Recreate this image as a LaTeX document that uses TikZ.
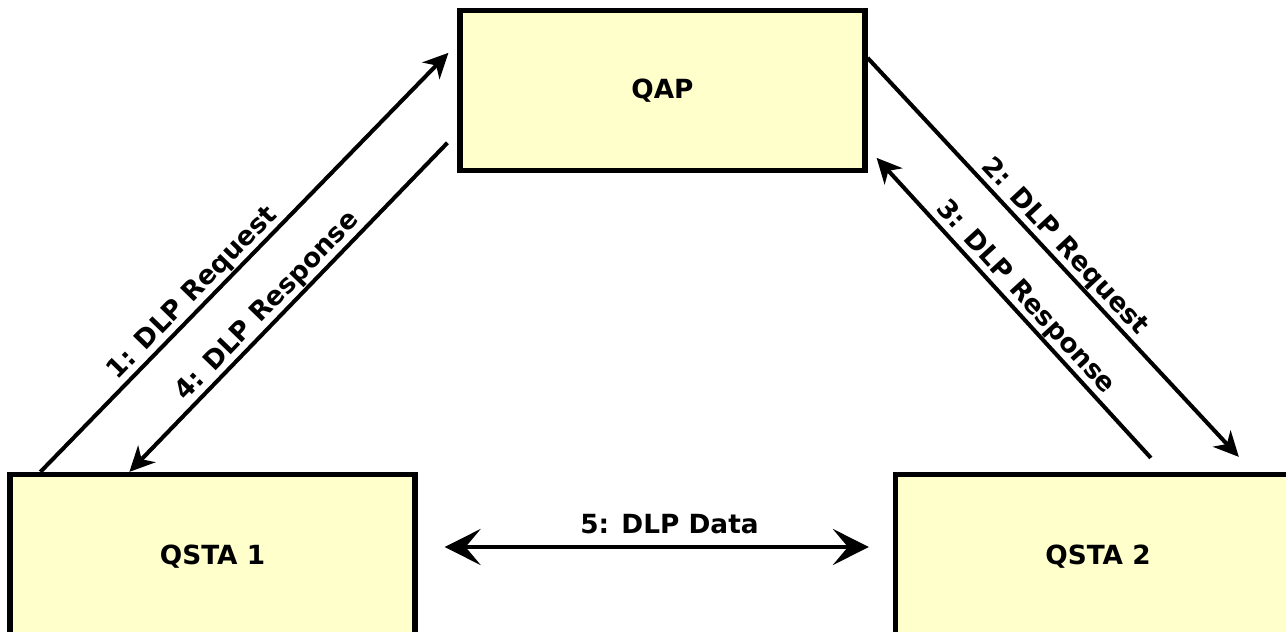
\documentclass[tikz,border=0pt]{standalone}
\usepackage{fontspec}
\setmainfont{DejaVu Sans}
\usetikzlibrary{arrows.meta}

\definecolor{boxyellow}{HTML}{FFFFCC}

\begin{document}
\begin{tikzpicture}[x=0.02cm,y=-0.02cm,
	station/.style={draw=black,line width=3pt,fill=boxyellow,minimum width=8.1cm,font=\bfseries\fontsize{15}{17}\selectfont},
	msg/.style={line width=2.3pt,-{Stealth[length=0.5cm,width=0.48cm,inset=0.15cm]}},
	datamsg/.style={line width=2.5pt,{Stealth[length=0.72cm,width=0.72cm,inset=0.3cm]}-{Stealth[length=0.72cm,width=0.72cm,inset=0.3cm]}},
	msglabel/.style={sloped,above,inner sep=0.5pt,font=\bfseries\fontsize{15}{17}\selectfont}]
					% Page frame
					\useasboundingbox (0,0) rectangle (1286,632);
					\clip (0,0) rectangle (1286,632);
					% Stations
					\node[station,minimum height=3.2cm] (qap) at (662.5,90.5) {QAP};
					\node[station,minimum height=3.3cm] (qsta1) at (212.5,557) {QSTA 1};
					\node[station,minimum height=3.3cm] (qsta2) at (1098,557) {QSTA 2};
					% Left side: QSTA 1 <-> QAP
					\draw[msg] ([xshift=0.66cm]qsta1.north west) -- ([xshift=-0.18cm,yshift=-0.9cm]qap.north west)
						node[msglabel,pos=0.4] {1: DLP Request};
					\draw[msg] ([xshift=-0.2cm,yshift=-2.7cm]qap.north west) -- ([xshift=2.44cm]qsta1.north west)
						node[msglabel,pos=0.53] {4: DLP Response};
					% Right side: QAP <-> QSTA 2
					\draw[msg] ([yshift=-1.0cm]qap.north east) -- ([xshift=6.92cm,yshift=0.3cm]qsta2.north west)
						node[msglabel,pos=0.5] {2: DLP Request};
					\draw[msg] ([xshift=5.16cm,yshift=0.28cm]qsta2.north west) -- ([xshift=0.18cm,yshift=-3.0cm]qap.north east)
						node[msglabel,pos=0.5] {3: DLP Response};
					% Direct link
					\draw[datamsg] ([xshift=0.54cm,yshift=0.2cm]qsta1.east) -- ([xshift=-0.48cm,yshift=0.2cm]qsta2.west)
						node[pos=0.53,above=0.1cm,font=\bfseries\fontsize{15}{17}\selectfont] {5: DLP Data};
				\end{tikzpicture}
\end{document}
